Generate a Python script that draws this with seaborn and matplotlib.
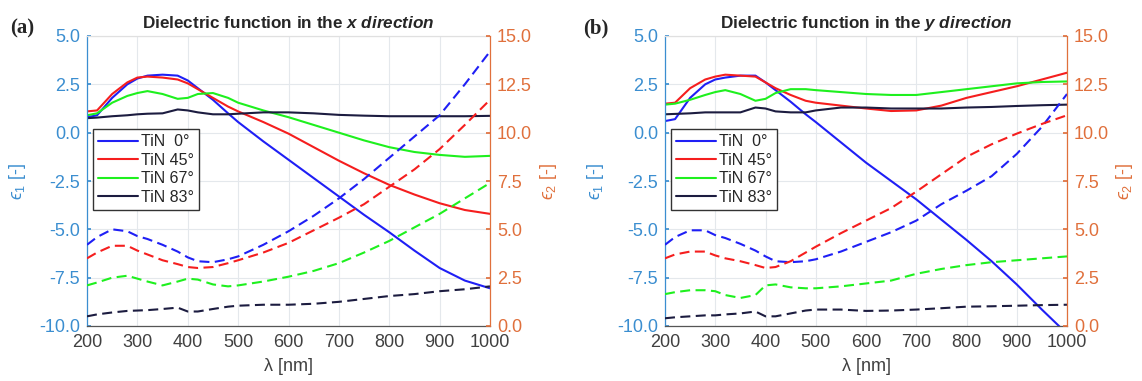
import numpy as np
import pandas as pd
import matplotlib
matplotlib.use("Agg")
import matplotlib.pyplot as plt
import seaborn as sns
from matplotlib.ticker import FormatStrFormatter, MultipleLocator

wl = [200, 220, 250, 280, 300, 320, 350, 380, 400, 420, 450, 480, 500,
      550, 600, 650, 700, 750, 800, 850, 900, 950, 1000]

labels = ["TiN  0°", "TiN 45°", "TiN 67°", "TiN 83°"]

# (a) x direction, eps1 (solid, left axis)
ax_e1_0 = [0.8, 0.9, 1.8, 2.5, 2.8, 2.95, 3.0, 2.95, 2.7, 2.3, 1.7, 1.0, 0.55,
           -0.45, -1.4, -2.35, -3.3, -4.25, -5.15, -6.1, -7.0, -7.65, -8.05]
ax_e1_45 = [1.1, 1.15, 2.0, 2.6, 2.85, 2.9, 2.85, 2.75, 2.55, 2.25, 1.8, 1.35, 1.1,
            0.55, -0.05, -0.75, -1.45, -2.1, -2.7, -3.2, -3.65, -4.0, -4.2]
ax_e1_67 = [0.9, 1.0, 1.55, 1.9, 2.05, 2.15, 2.0, 1.75, 1.8, 2.0, 2.05, 1.8, 1.55,
            1.15, 0.8, 0.4, 0.0, -0.4, -0.75, -1.0, -1.15, -1.25, -1.2]
ax_e1_83 = [0.75, 0.78, 0.85, 0.9, 0.95, 0.98, 1.0, 1.2, 1.15, 1.05, 0.95, 0.95, 0.98,
            1.05, 1.05, 1.0, 0.92, 0.88, 0.85, 0.85, 0.85, 0.85, 0.87]
# (a) x direction, eps2 (dashed, right axis)
ax_e2_0 = [4.2, 4.6, 5.0, 4.9, 4.65, 4.5, 4.2, 3.85, 3.55, 3.35, 3.3, 3.45, 3.6,
           4.2, 4.9, 5.7, 6.6, 7.6, 8.7, 9.8, 10.9, 12.5, 14.2]
ax_e2_45 = [3.5, 3.8, 4.15, 4.15, 3.9, 3.7, 3.4, 3.2, 3.05, 3.0, 3.05, 3.25, 3.4,
            3.8, 4.3, 4.95, 5.6, 6.3, 7.2, 8.1, 9.15, 10.4, 11.7]
ax_e2_67 = [2.1, 2.25, 2.5, 2.6, 2.45, 2.3, 2.1, 2.3, 2.45, 2.4, 2.15, 2.05, 2.1,
            2.3, 2.55, 2.85, 3.25, 3.8, 4.4, 5.1, 5.8, 6.6, 7.4]
ax_e2_83 = [0.5, 0.6, 0.7, 0.78, 0.8, 0.82, 0.88, 0.95, 0.75, 0.75, 0.88, 1.0, 1.05,
            1.1, 1.1, 1.15, 1.25, 1.4, 1.55, 1.65, 1.8, 1.9, 2.05]

# (b) y direction, eps1
ay_e1_0 = [0.6, 0.7, 1.8, 2.5, 2.75, 2.85, 2.95, 2.95, 2.6, 2.2, 1.6, 0.95, 0.55,
           -0.5, -1.55, -2.5, -3.45, -4.5, -5.55, -6.65, -7.85, -9.15, -10.4]
ay_e1_45 = [1.5, 1.55, 2.3, 2.75, 2.9, 3.0, 2.95, 2.9, 2.6, 2.3, 1.95, 1.65, 1.55,
            1.4, 1.25, 1.12, 1.15, 1.4, 1.8, 2.1, 2.4, 2.75, 3.1]
ay_e1_67 = [1.45, 1.5, 1.7, 1.95, 2.1, 2.2, 2.0, 1.65, 1.75, 2.05, 2.25, 2.25, 2.2,
            2.1, 2.0, 1.95, 1.95, 2.1, 2.25, 2.4, 2.55, 2.62, 2.65]
ay_e1_83 = [0.95, 0.97, 1.0, 1.05, 1.05, 1.05, 1.05, 1.3, 1.25, 1.1, 1.05, 1.05, 1.15,
            1.3, 1.3, 1.25, 1.25, 1.25, 1.3, 1.33, 1.38, 1.42, 1.45]
# (b) y direction, eps2
ay_e2_0 = [4.2, 4.6, 4.95, 4.95, 4.7, 4.55, 4.25, 3.9, 3.6, 3.35, 3.3, 3.35, 3.45,
           3.85, 4.35, 4.85, 5.45, 6.3, 7.0, 7.75, 8.9, 10.3, 12.0]
ay_e2_45 = [3.5, 3.7, 3.85, 3.85, 3.65, 3.5, 3.35, 3.15, 3.0, 3.05, 3.35, 3.8, 4.1,
            4.8, 5.45, 6.1, 6.95, 7.85, 8.75, 9.4, 9.95, 10.45, 10.9]
ay_e2_67 = [1.65, 1.75, 1.85, 1.85, 1.8, 1.6, 1.45, 1.6, 2.1, 2.15, 2.0, 1.95, 1.95,
            2.05, 2.2, 2.35, 2.7, 2.95, 3.15, 3.3, 3.4, 3.5, 3.6]
ay_e2_83 = [0.4, 0.45, 0.5, 0.55, 0.55, 0.6, 0.65, 0.75, 0.5, 0.5, 0.65, 0.8, 0.85,
            0.85, 0.78, 0.8, 0.85, 0.92, 1.0, 1.02, 1.05, 1.08, 1.1]

line_colors = ["#1f1ff5", "#f51e1e", "#1ef01e", "#1c1c40"]
left_c = "#3b8ed0"
right_c = "#e0703c"

sns.set_theme(style="white")
plt.rcParams["font.family"] = ["Liberation Sans", "DejaVu Sans"]
plt.rcParams["axes.unicode_minus"] = False
plt.rcParams["mathtext.fontset"] = "custom"
plt.rcParams["mathtext.rm"] = "Liberation Sans"
plt.rcParams["mathtext.it"] = "Liberation Sans:italic"
plt.rcParams["mathtext.bf"] = "Liberation Sans:bold"
plt.rcParams["mathtext.bfit"] = "Liberation Sans:italic:bold"


def draw_panel(ax, e1_list, e2_list, direction):
    ax2 = ax.twinx()
    for vals, c, lab in zip(e1_list, line_colors, labels):
        sns.lineplot(x=wl, y=vals, ax=ax, color=c, lw=1.5, label=lab, legend=False)
    for vals, c in zip(e2_list, line_colors):
        sns.lineplot(x=wl, y=vals, ax=ax2, color=c, lw=1.5, legend=False,
                     dashes=False, linestyle=(0, (4.8, 2.6)))
    ax.set_xlim(200, 1000)
    ax.set_ylim(-10, 5)
    ax2.set_ylim(0, 15)
    ax.xaxis.set_major_locator(MultipleLocator(100))
    ax.yaxis.set_major_locator(MultipleLocator(2.5))
    ax2.yaxis.set_major_locator(MultipleLocator(2.5))
    ax.yaxis.set_major_formatter(FormatStrFormatter("%.1f"))
    ax2.yaxis.set_major_formatter(FormatStrFormatter("%.1f"))
    ax.grid(True, color="#e4e8ec", lw=0.8)
    ax.set_axisbelow(True)

    ax.tick_params(axis="x", direction="in", length=3, labelsize=13,
                   colors="#555555", labelcolor="#404040", pad=6)
    ax.tick_params(axis="y", direction="in", length=3, labelsize=13,
                   colors=left_c, pad=5)
    ax2.tick_params(axis="y", direction="in", length=3, labelsize=13,
                    colors=right_c, pad=5)

    ax.spines["left"].set_color(left_c)
    ax.spines["right"].set_visible(False)
    ax.spines["top"].set_color("#e0e0e0")
    ax.spines["bottom"].set_color("#555555")
    ax2.spines["right"].set_color(right_c)
    for s in ["left", "top", "bottom"]:
        ax2.spines[s].set_visible(False)
    for s in ax.spines.values():
        s.set_linewidth(0.9)
    ax2.spines["right"].set_linewidth(0.9)

    ax.set_xlabel("λ [nm]", fontsize=13, color="#404040")
    ax.xaxis.set_label_coords(0.5, -0.11)
    ax.set_ylabel("$\u03f5_1$ [-]", fontsize=13, color=left_c)
    ax.yaxis.set_label_coords(-0.146, 0.5)
    ax2.set_ylabel("$\u03f5_2$ [-]", fontsize=13, color=right_c)
    ax2.yaxis.set_label_coords(1.118, 0.5)

    ax.set_title(r"Dielectric function in the $\mathbfit{" + direction + r"\ direction}$",
                 fontsize=12.3, fontweight="bold", color="#262626", pad=6)

    handles = ax.get_lines()[:4]
    ax2.legend(handles, labels, loc="upper left", bbox_to_anchor=(0.016, 0.678),
               fontsize=11.5, frameon=True, fancybox=False, edgecolor="#333333",
               framealpha=1, handlelength=2.5, handletextpad=0.2,
               labelspacing=0.22, borderpad=0.3, borderaxespad=0)
    return ax2


fig = plt.figure(figsize=(11.42, 3.81), dpi=100)
ax_a = fig.add_axes([87 / 1142, 1 - 326 / 381, 403 / 1142, 290 / 381])
ax_b = fig.add_axes([665 / 1142, 1 - 326 / 381, 402 / 1142, 290 / 381])

draw_panel(ax_a, [ax_e1_0, ax_e1_45, ax_e1_67, ax_e1_83],
           [ax_e2_0, ax_e2_45, ax_e2_67, ax_e2_83], "x")
draw_panel(ax_b, [ay_e1_0, ay_e1_45, ay_e1_67, ay_e1_83],
           [ay_e2_0, ay_e2_45, ay_e2_67, ay_e2_83], "y")

fig.text(10 / 1142, 1 - 28 / 381, "(a)", family="Liberation Serif",
         fontweight="bold", fontsize=15, va="center", ha="left")
fig.text(583 / 1142, 1 - 28 / 381, "(b)", family="Liberation Serif",
         fontweight="bold", fontsize=15, va="center", ha="left")

fig.savefig("out.png", dpi=100)
